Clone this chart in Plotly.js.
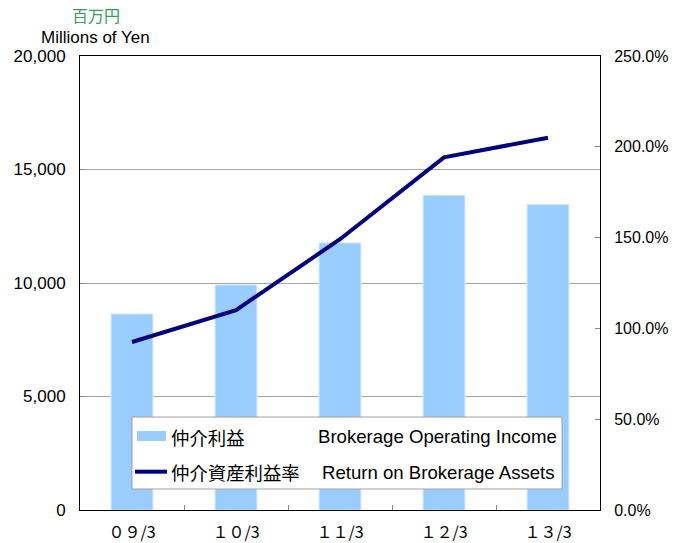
<!DOCTYPE html>
<html>
<head>
<meta charset="utf-8">
<script src="https://cdn.plot.ly/plotly-3.0.1.min.js"></script>
<style>html,body{margin:0;padding:0;background:#fff;}#chart{width:688px;height:543px;}</style>
</head>
<body>
<div id="chart"></div>
<script>
const categories = ["０９/3", "１０/3", "１１/3", "１２/3", "１３/3"];
const incomeValues = [8630, 9910, 11760, 13860, 13450];          // 百万円
const returnValues = [92.5, 110.1, 149.1, 194.2, 205.0];          // %
const leftTicks = [0, 5000, 10000, 15000, 20000];
const rightTicks = [0, 50, 100, 150, 200, 250];
const rightTickText = ["0.0%", "50.0%", "100.0%", "150.0%", "200.0%", "250.0%"];
const legendJa = ["仲介利益", "仲介資産利益率"];
const legendEn = ["Brokerage Operating Income", "Return on Brokerage Assets"];
const unitJa = "百万円";
const unitEn = "Millions of Yen";

const barColor = "#99ccff";
const lineColor = "#000080";
const enFont = "Liberation Sans, Arial, sans-serif";
const jaFont = "Noto Sans CJK JP, sans-serif";

const traces = [
  {
    type: "bar", x: categories, y: incomeValues, name: legendJa[0],
    marker: {color: barColor, line: {color: "#c4e1ff", width: 1}},
    width: 0.4, yaxis: "y", showlegend: false, hoverinfo: "x+y"
  },
  {
    type: "scatter", mode: "lines", x: categories, y: returnValues, name: legendJa[1],
    line: {color: lineColor, width: 4}, yaxis: "y2", showlegend: false
  }
];

// legend geometry in paper coords
const lx0 = 0.10, lx1 = 0.927, ly0 = 0.0463, ly1 = 0.2048;
const row1 = 0.161, row2 = 0.083;

const layout = {
  width: 688, height: 543,
  margin: {l: 80, r: 88, t: 56, b: 33},
  paper_bgcolor: "#fff", plot_bgcolor: "#fff",
  showlegend: false,
  bargap: 0.6,
  font: {family: enFont, size: 16, color: "#000"},
  xaxis: {
    type: "category",
    showline: true, linecolor: "#000", linewidth: 1, mirror: true,
    ticks: "inside", tickson: "boundaries", ticklen: 5, tickcolor: "#888",
    ticklabelstandoff: 8,
    tickfont: {family: jaFont, size: 16, color: "#000"},
    showgrid: false, zeroline: false, fixedrange: true
  },
  yaxis: {
    range: [0, 20000], tickvals: leftTicks, tickformat: ",d",
    showline: true, linecolor: "#000", linewidth: 1,
    ticks: "inside", ticklen: 5, tickcolor: "#888",
    ticklabelstandoff: 10,
    showgrid: true, gridcolor: "#a6a6a6", gridwidth: 1,
    zeroline: false,
    tickfont: {family: enFont, size: 17, color: "#000"}
  },
  yaxis2: {
    overlaying: "y", side: "right",
    range: [0, 250], tickmode: "array", tickvals: rightTicks, ticktext: rightTickText,
    showline: true, linecolor: "#000", linewidth: 1,
    ticks: "inside", ticklen: 5, tickcolor: "#888",
    ticklabelstandoff: 10,
    showgrid: false, zeroline: false,
    tickfont: {family: enFont, size: 16, color: "#000"}
  },
  shapes: [
    {type: "rect", xref: "paper", yref: "paper", x0: lx0, x1: lx1, y0: ly0, y1: ly1,
     fillcolor: "#fff", line: {color: "#a0a0a0", width: 1}, layer: "above"},
    {type: "rect", xref: "paper", yref: "paper", x0: 0.1096, x1: 0.1654, y0: 0.152, y1: 0.174,
     fillcolor: barColor, line: {width: 0}, layer: "above"},
    {type: "line", xref: "paper", yref: "paper", x0: 0.1058, x1: 0.1673, y0: 0.0844, y1: 0.0844,
     line: {color: lineColor, width: 4}, layer: "above"}
  ],
  annotations: [
    {xref: "paper", yref: "paper", x: 0.1712, y: row1, xanchor: "left", yanchor: "middle",
     text: legendJa[0], showarrow: false, font: {family: jaFont, size: 18.4, color: "#000"}},
    {xref: "paper", yref: "paper", x: 0.1712, y: row2, xanchor: "left", yanchor: "middle",
     text: legendJa[1], showarrow: false, font: {family: jaFont, size: 18.4, color: "#000"}},
    {xref: "paper", yref: "paper", x: 0.4538, y: row1, xanchor: "left", yanchor: "middle",
     text: legendEn[0], showarrow: false, font: {family: enFont, size: 18.6, color: "#000"}},
    {xref: "paper", yref: "paper", x: 0.4615, y: row2, xanchor: "left", yanchor: "middle",
     text: legendEn[1], showarrow: false, font: {family: enFont, size: 18.6, color: "#000"}},
    {xref: "paper", yref: "paper", x: (96 - 80) / 520, y: (510 - 15) / 454, xanchor: "center", yanchor: "middle",
     text: unitJa, showarrow: false, font: {family: jaFont, size: 16, color: "#33a060"}},
    {xref: "paper", yref: "paper", x: (95 - 80) / 520, y: (510 - 38) / 454, xanchor: "center", yanchor: "middle",
     text: unitEn, showarrow: false, font: {family: enFont, size: 17, color: "#000"}}
  ]
};

Plotly.newPlot("chart", traces, layout, {displayModeBar: false, staticPlot: true});
</script>
</body>
</html>
